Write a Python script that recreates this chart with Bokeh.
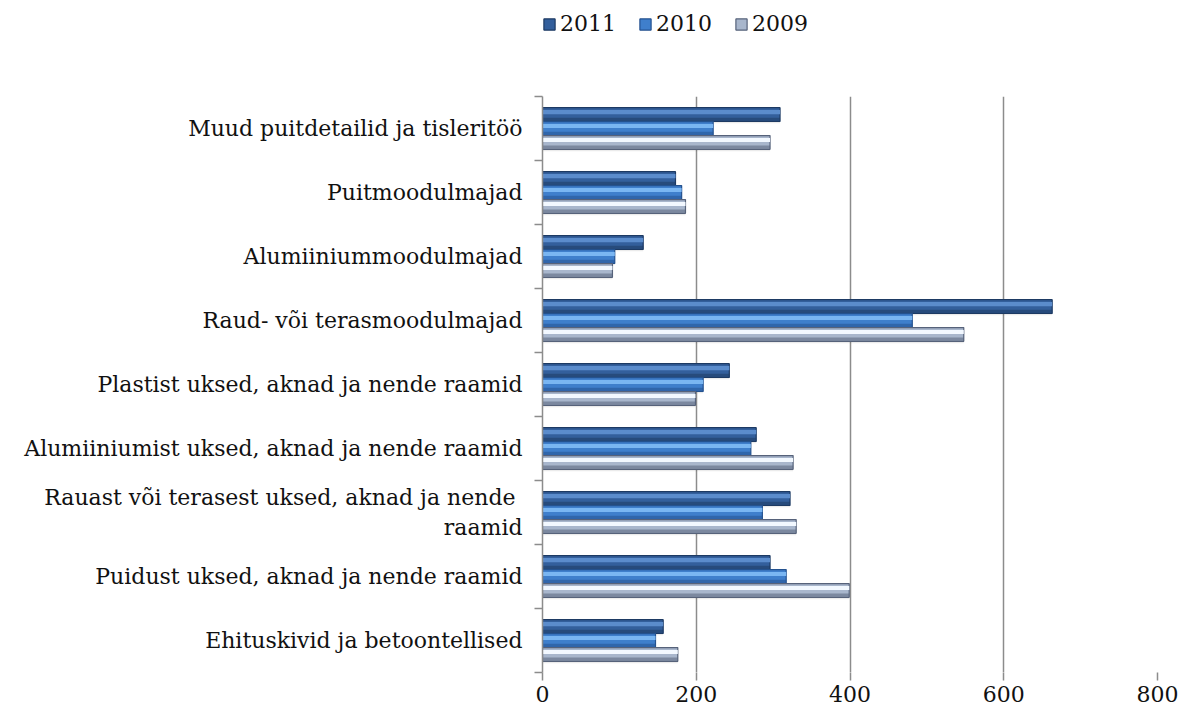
from bokeh.plotting import figure
from bokeh.layouts import column
from bokeh.models import (ColumnDataSource, Range1d, LinearAxis, FixedTicker, Legend, LegendItem)
from bokeh.transform import dodge
from bokeh.embed import file_html
from bokeh.resources import INLINE

categories = [
    "Ehituskivid ja betoontellised",
    "Puidust uksed, aknad ja nende raamid",
    "Rauast või terasest uksed, aknad ja nende \nraamid",
    "Alumiiniumist uksed, aknad ja nende raamid",
    "Plastist uksed, aknad ja nende raamid",
    "Raud- või terasmoodulmajad",
    "Alumiiniummoodulmajad",
    "Puitmoodulmajad",
    "Muud puitdetailid ja tisleritöö",
]
v2011 = [157, 296, 322, 278, 243, 663, 131, 173, 309]
v2010 = [147, 317, 286, 271, 209, 481, 94, 181, 222]
v2009 = [176, 399, 330, 326, 199, 548, 91, 186, 296]
x_ticks = [0, 200, 400, 600, 800]

FONT = "DejaVu Serif"
FS = "22px"
n = len(categories)
pos = list(range(n))

src = ColumnDataSource(dict(pos=pos, v2011=v2011, v2010=v2010, v2009=v2009))

p = figure(width=1178, height=672, output_backend="svg", toolbar_location=None,
           y_range=Range1d(-0.5, n - 0.5), x_range=Range1d(0, 800), y_axis_location=None,
           min_border_left=542, min_border_right=21, min_border_top=56, min_border_bottom=40)
p.outline_line_color = None
p.background_fill_color = "white"

# boundary ticks axis (adjacent to the frame)
bax = LinearAxis(ticker=FixedTicker(ticks=[i - 0.5 for i in range(n + 1)]),
                 major_label_text_font_size="0px", major_label_text_color=None,
                 axis_line_color="#8c8c8c", axis_line_width=1.5,
                 major_tick_line_color="#8c8c8c", major_tick_line_width=1.5,
                 major_tick_out=8, major_tick_in=0, minor_tick_line_color=None,
                 major_label_standoff=0)
p.add_layout(bax, "left")
cax = LinearAxis(ticker=FixedTicker(ticks=pos), axis_line_color=None, major_tick_line_color=None,
                 minor_tick_line_color=None,
                 major_label_overrides={i: c for i, c in zip(pos, categories)},
                 major_label_text_font=FONT, major_label_text_font_size=FS,
                 major_label_text_color="#111111", major_label_standoff=6)
p.add_layout(cax, "left")

xa = p.xaxis[0]
xa.ticker = FixedTicker(ticks=x_ticks)
xa.axis_line_color = None
xa.major_tick_line_color = "#8c8c8c"
xa.major_tick_line_width = 1.5
xa.major_tick_out = 8
xa.major_tick_in = 0
xa.minor_tick_line_color = None
xa.major_label_text_font = FONT
xa.major_label_text_font_size = "22px"
xa.major_label_text_color = "#111111"
xa.major_label_standoff = 5

p.xgrid.ticker = FixedTicker(ticks=x_ticks[1:])
p.xgrid.grid_line_color = "#8c8c8c"
p.xgrid.grid_line_width = 1.5
p.ygrid.grid_line_color = None

# legend strip above the chart (frame aligned with the chart's frame)
lf = figure(width=1178, height=40, output_backend="svg", toolbar_location=None,
            x_range=Range1d(0, 1), y_range=Range1d(0, 1),
            x_axis_location=None, y_axis_location=None,
            min_border_left=542, min_border_right=21, min_border_top=0, min_border_bottom=0)
lf.outline_line_color = None
lf.grid.grid_line_color = None
proxy_src = ColumnDataSource(dict(y=[float("nan")], right=[float("nan")]))

H = 0.215
series = [
    ("2011", "v2011", 0.218, "#335f9c", "#5b8ccc", "#1d3a63"),
    ("2010", "v2010", 0.0, "#3f7fcc", "#7ab6f2", "#24528f"),
    ("2009", "v2009", -0.218, "#a8b6cc", "#f2f8ff", "#56627a"),
]
items = []
for name, col, off, mid, light, dark in series:
    p.hbar(y=dodge("pos", off - 0.03), right=col, left=0, height=H,
           source=src, fill_color="#000000", fill_alpha=0.08, line_color=None)
    p.hbar(y=dodge("pos", off), right=col, left=0, height=H,
           source=src, fill_color=mid, line_color=dark, line_width=1.2)
    p.hbar(y=dodge("pos", off + H * 0.18), right=col, left=0, height=H * 0.3,
           source=src, fill_color=light, line_color=None)
    p.hbar(y=dodge("pos", off - H * 0.34), right=col, left=0, height=H * 0.22,
           source=src, fill_color=dark, fill_alpha=0.55, line_color=None)
    proxy = lf.hbar(y="y", right="right", left=0, height=0.1, source=proxy_src,
                    fill_color=mid, line_color=dark, line_width=1.2)
    items.append(LegendItem(label=name, renderers=[proxy]))

legend = Legend(items=items, orientation="horizontal", location=(0, 4),
                label_text_font=FONT, label_text_font_size="22px", label_text_color="#111111",
                glyph_width=14, glyph_height=14, spacing=22, label_standoff=4,
                border_line_color=None, background_fill_alpha=0, margin=0, padding=2)
lf.add_layout(legend)

layout = column(lf, p, spacing=0)
open("out.html", "w").write(file_html(layout, INLINE))
